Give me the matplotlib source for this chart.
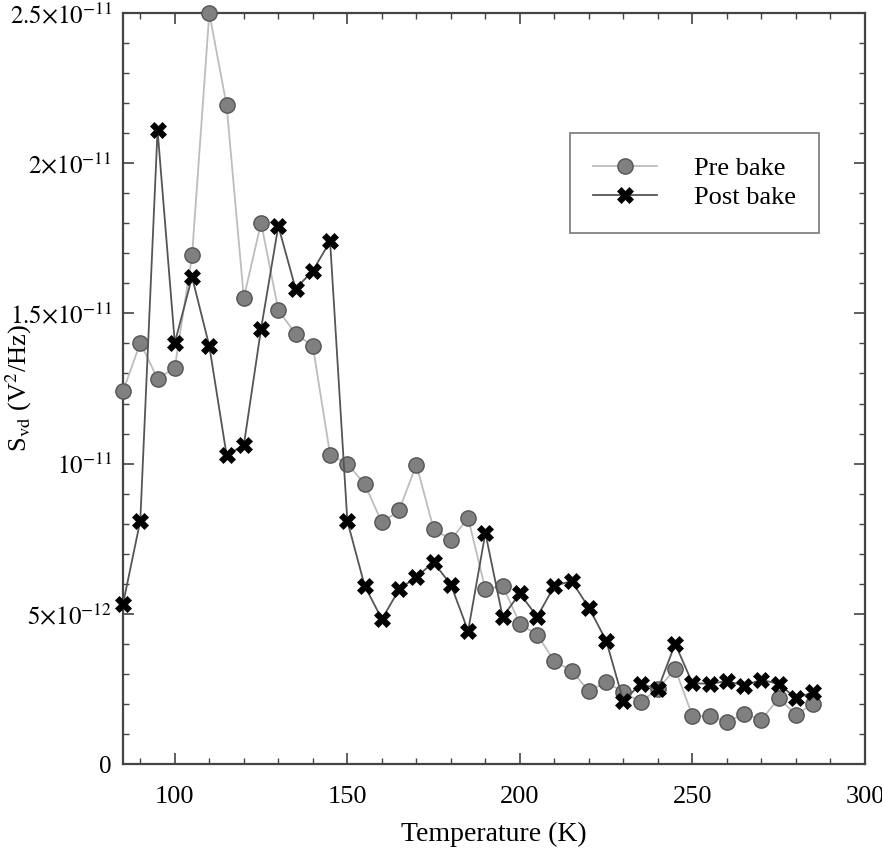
import matplotlib
matplotlib.use("Agg")
import matplotlib.pyplot as plt
from matplotlib.ticker import MultipleLocator, FixedLocator

# temperatures (K)
temps = [85, 90, 95, 100, 105, 110, 115, 120, 125, 130, 135, 140, 145, 150,
         155, 160, 165, 170, 175, 180, 185, 190, 195, 200, 205, 210, 215, 220,
         225, 230, 235, 240, 245, 250, 255, 260, 265, 270, 275, 280, 285]

# noise values in units of 1e-12 V^2/Hz
pre_bake = [12.41, 14.02, 12.83, 13.19, 16.93, 25.0, 21.93, 15.52, 18.02, 15.11,
            14.32, 13.91, 10.3, 9.99, 9.33, 8.04, 8.44, 9.97, 7.83, 7.46,
            8.19, 5.82, 5.93, 4.67, 4.3, 3.43, 3.1, 2.43, 2.73, 2.39,
            2.06, 2.49, 3.17, 1.6, 1.6, 1.39, 1.67, 1.47, 2.19, 1.64, 2.01]
post_bake = [5.33, 8.1, 21.1, 14.02, 16.21, 13.91, 10.29, 10.61, 14.49, 17.91,
             15.82, 16.42, 17.4, 8.09, 5.94, 4.82, 5.81, 6.23, 6.71, 5.97,
             4.43, 7.69, 4.9, 5.68, 4.9, 5.93, 6.09, 5.2, 4.11, 2.09,
             2.67, 2.49, 4.0, 2.69, 2.67, 2.76, 2.61, 2.8, 2.67, 2.19, 2.39]

ytick_vals = [0, 5e-12, 1e-11, 1.5e-11, 2e-11, 2.5e-11]
ytick_labels = ["0", r"$5{\times}10^{-12}$", r"$10^{-11}$", r"$1.5{\times}10^{-11}$",
                r"$2{\times}10^{-11}$", r"$2.5{\times}10^{-11}$"]

plt.rcParams["font.family"] = ["Liberation Serif", "DejaVu Serif"]
plt.rcParams["mathtext.fontset"] = "stix"

fig = plt.figure(figsize=(8.82, 8.49), dpi=100)
ax = fig.add_axes([0.1395, 0.1001, 0.8412, 0.8846])

pre = [v * 1e-12 for v in pre_bake]
post = [v * 1e-12 for v in post_bake]

ax.plot(temps, pre, color="#bdbdbd", lw=1.3, marker="o", ms=11,
        mfc="#808080", mec="#555555", mew=1.0, label="Pre bake", clip_on=False, zorder=3)
ax.plot(temps, post, color="#555555", lw=1.3, marker="X", ms=12,
        mfc="black", mec="black", mew=0.5, label="Post bake", clip_on=False, zorder=4)

ax.set_xlim(85, 300)
ax.set_ylim(0, 2.5e-11)
ax.xaxis.set_major_locator(MultipleLocator(50))
ax.xaxis.set_minor_locator(MultipleLocator(10))
ax.yaxis.set_major_locator(FixedLocator(ytick_vals))
ax.yaxis.set_minor_locator(MultipleLocator(1e-12))
ax.set_yticklabels(ytick_labels)

ax.tick_params(which="both", direction="in", top=True, right=True,
               colors="#444444", labelcolor="black")
ax.tick_params(which="major", length=8, width=1.2)
ax.tick_params(which="minor", length=4, width=1.0)
ax.tick_params(axis="x", labelsize=19, pad=16)
ax.tick_params(axis="y", labelsize=18, pad=8)
for s in ax.spines.values():
    s.set_color("#444444")
    s.set_linewidth(1.6)

ax.set_xlabel("Temperature (K)", fontsize=20, labelpad=10)
ax.set_ylabel(r"S$_{\mathrm{vd}}$ (V$^2$/Hz)", fontsize=19)
ax.yaxis.set_label_coords(-0.12, 0.5)

leg = ax.legend(loc="upper left", bbox_to_anchor=(0.602, 0.84), fontsize=19,
                frameon=True, fancybox=False, edgecolor="#555555",
                borderpad=0.9, handlelength=2.4, handletextpad=1.4, labelspacing=0.2,
                borderaxespad=0)
leg.get_frame().set_linewidth(1.2)

fig.savefig("out.png", dpi=100)
